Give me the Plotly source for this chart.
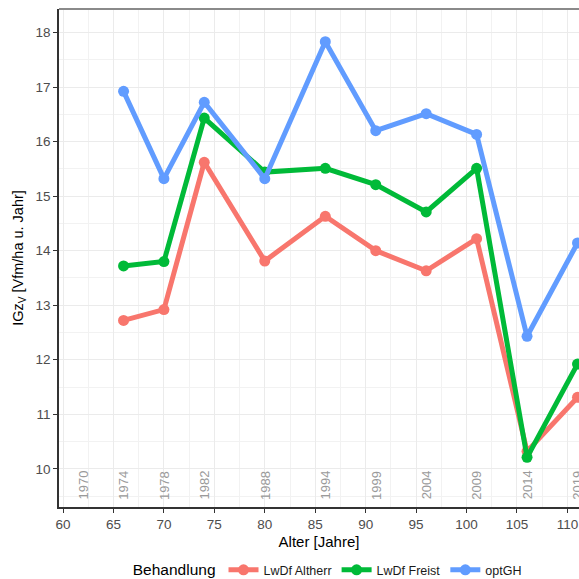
import plotly.graph_objects as go

# ---- data ----
ages = [66, 70, 74, 80, 86, 91, 96, 101, 106, 111]
altherr = [12.72, 12.92, 15.62, 13.81, 14.63, 14.0, 13.63, 14.22, 10.32, 11.31]
freist = [13.72, 13.80, 16.43, 15.44, 15.51, 15.21, 14.71, 15.51, 10.21, 11.92]
optgh = [16.92, 15.32, 16.72, 15.32, 17.83, 16.20, 16.51, 16.13, 12.43, 14.14]
series_names = ["LwDf Altherr", "LwDf Freist", "optGH"]
series_colors = ["#F8766D", "#00BA38", "#619CFF"]

year_ages = [62, 66, 70, 74, 80, 86, 91, 96, 101, 106, 111]
year_labels = ["1970", "1974", "1978", "1982", "1988", "1994", "1999", "2004", "2009", "2014", "2019"]
year_label_y = 9.70

fig = go.Figure()
for name, vals, col in zip(series_names, [altherr, freist, optgh], series_colors):
    fig.add_trace(go.Scatter(
        x=ages, y=vals, name=name, mode="lines+markers",
        line=dict(color=col, width=5),
        marker=dict(color=col, size=11),
    ))

for a, lab in zip(year_ages, year_labels):
    fig.add_annotation(x=a, y=year_label_y, text=lab, showarrow=False,
                       textangle=-90, font=dict(size=13, color="#9a9a9a"),
                       xref="x", yref="y")

font_family = "Liberation Sans, Arial, sans-serif"
axis_common = dict(
    showgrid=True, gridcolor="#EBEBEB", gridwidth=1.2,
    ticks="outside", ticklen=4, tickwidth=1, tickcolor="#333333",
    showline=True, linecolor="#333333", linewidth=1.5,
    zeroline=False, automargin=False,
    tickfont=dict(size=13.5, color="#4D4D4D", family=font_family),
)

fig.update_layout(
    width=579, height=579,
    margin=dict(l=59, r=0, t=9, b=72, autoexpand=False),
    paper_bgcolor="white", plot_bgcolor="white",
    font=dict(family=font_family),
    showlegend=True,
    legend=dict(
        orientation="h", x=0.138, xanchor="left", y=-0.128, yanchor="middle",
        title=dict(text="Behandlung", font=dict(size=15.5, color="black")),
        font=dict(size=12.5, color="#1a1a1a"),
        itemwidth=30,
    ),
    xaxis=dict(
        range=[59.6, 111.15], dtick=5, tick0=0,
        minor=dict(dtick=2.5, showgrid=True, gridcolor="#F2F2F2", gridwidth=1),
        title=dict(text="Alter [Jahre]", font=dict(size=15, color="black"), standoff=6),
        **axis_common,
    ),
    yaxis=dict(
        range=[9.30, 18.43], dtick=1, tick0=0,
        minor=dict(dtick=0.5, showgrid=True, gridcolor="#F2F2F2", gridwidth=1),
        title=dict(text="IGz<sub>V</sub> [Vfm/ha u. Jahr]", font=dict(size=14.5, color="black"), standoff=8),
        **axis_common,
    ),
)

fig.add_shape(type="line", xref="paper", yref="paper", x0=0, x1=1, y0=1, y1=1,
              line=dict(color="#8a8a8a", width=2))

fig.write_html("out.html", config={"displayModeBar": False},
               post_script="document.body.style.margin='0';")
